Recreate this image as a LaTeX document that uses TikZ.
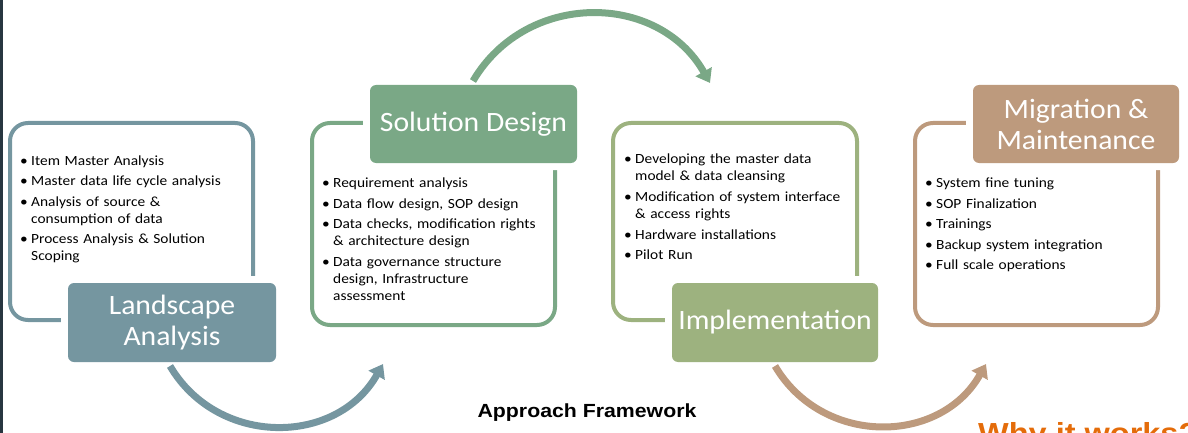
\documentclass[tikz,border=0pt]{standalone}
\usepackage{fontspec}
\setmainfont{Carlito}
\newfontfamily\bodyfont[FakeStretch=1.1]{Carlito}
\newfontfamily\titlefont[FakeStretch=1.06]{Carlito}
\newfontfamily\capfont[FakeStretch=1.12]{Liberation Sans}
\usetikzlibrary{arrows.meta}
\definecolor{cLand}{RGB}{117,150,160}
\definecolor{cSol}{RGB}{122,168,134}
\definecolor{cImp}{RGB}{157,178,127}
\definecolor{cMig}{RGB}{189,154,125}
\definecolor{cOrange}{RGB}{228,108,10}
\definecolor{cBar}{RGB}{40,54,64}
\newcommand{\nl}{\hfil\break}
\newcommand{\firstitm}[1]{\setlength{\parskip}{0pt}\hangindent=11pt\hangafter=1\noindent\makebox[11pt][l]{\textbullet}#1\setlength{\parskip}{3.5pt}}
\newcommand{\itm}[1]{\par\hangindent=11pt\hangafter=1\noindent\makebox[11pt][l]{\textbullet}#1}
\begin{document}
\begin{tikzpicture}[x=1pt,y=1pt,
  frame/.style={draw=#1, line width=4pt, rounded corners=18pt, inner sep=0pt},
  stage/.style={fill=#1, preaction={draw=white, line width=14pt}, rounded corners=6pt,
    text=white, font=\titlefont\fontsize{28}{31}\selectfont, align=center, inner sep=0pt},
  blist/.style={anchor=base west, text width=250pt, inner sep=0pt, align=left,
    font=\bodyfont\fontsize{14}{17}\selectfont},
  cyc/.style={draw=#1, line width=7pt, -{Triangle[length=13pt,width=18pt]}}
]
\useasboundingbox (0,0) rectangle (1188,-433);
\begin{scope}
\clip (0,0) rectangle (1188,-433);
\fill[cBar] (0,0) rectangle (3,-433);

% outline frames
\node[frame=cLand, minimum width=243pt, minimum height=197pt] (f1) at (131.5,-221.5) {};
\node[frame=cSol,  minimum width=243pt, minimum height=202pt] (f2) at (433.5,-224) {};
\node[frame=cImp,  minimum width=244pt, minimum height=197pt] (f3) at (735,-221.5) {};
\node[frame=cMig,  minimum width=243pt, minimum height=202pt] (f4) at (1036.5,-224) {};

% stage boxes
\node[stage=cLand, minimum width=208pt, minimum height=79pt] (land) at (172,-322.5) {Landscape\\Analysis};
\node[stage=cSol,  minimum width=207pt, minimum height=78pt] (sol) at (473.5,-124) {Solution Design};
\node[stage=cImp,  minimum width=206pt, minimum height=79pt] (imp) at (775,-322.5) {Implementation};
\node[stage=cMig,  minimum width=206pt, minimum height=78pt] (mig) at (1076,-124) {Migration \&\\Maintenance};

% bullet lists
\node[blist] (l1) at (20,-165) {\firstitm{Item Master Analysis}
\itm{Master data life cycle analysis}
\itm{Analysis of source \&\nl consumption of data}
\itm{Process Analysis \& Solution\nl Scoping}\par};

\node[blist] (l2) at (322,-187.5) {\firstitm{Requirement analysis}
\itm{Data flow design, SOP design}
\itm{Data checks, modification rights\nl \& architecture design}
\itm{Data governance structure\nl design, Infrastructure\nl assessment}\par};

\node[blist] (l3) at (624,-164) {\firstitm{Developing the master data\nl model \& data cleansing}
\itm{Modification of system interface\nl \& access rights}
\itm{Hardware installations}
\itm{Pilot Run}\par};

\node[blist] (l4) at (925,-187.5) {\firstitm{System fine tuning}
\itm{SOP Finalization}
\itm{Trainings}
\itm{Backup system integration}
\itm{Full scale operations}\par};

% cycle arrows
\coordinate (a1s) at (170,-366);
\coordinate (a1e) at (383,-364);
\coordinate (a2s) at (473,-81);
\coordinate (a2e) at (710,-83);
\coordinate (a3s) at (775,-366);
\coordinate (a3e) at (986,-364);
\draw[cyc=cLand] (a1s) to[bend right=60, looseness=1.13] (a1e);
\draw[cyc=cSol]  (a2s) to[bend left=60, looseness=1.13] (a2e);
\draw[cyc=cMig]  (a3s) to[bend right=60, looseness=1.13] (a3e);

% captions
\node[anchor=base, inner sep=0pt, font=\capfont\bfseries\fontsize{19}{21}\selectfont] (cap) at (587,-417) {Approach Framework};
\node[anchor=base west, inner sep=0pt, text=cOrange, font=\capfont\bfseries\fontsize{29}{33}\selectfont] (why) at (978,-443) {Why it works?};
\end{scope}
\end{tikzpicture}
\end{document}
